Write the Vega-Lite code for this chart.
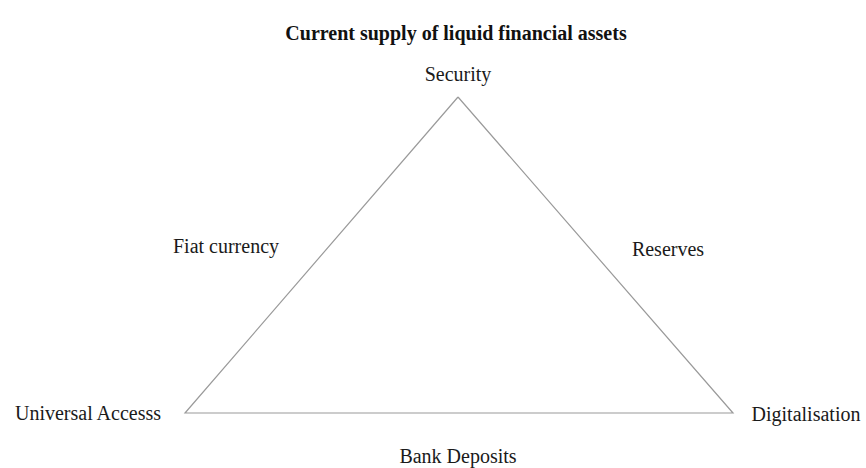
{
  "$schema": "https://vega.github.io/schema/vega-lite/v6.json",
  "width": 866,
  "height": 468,
  "autosize": {"type": "fit", "contains": "padding"},
  "padding": 0,
  "background": "white",
  "config": {"view": {"stroke": null}},
  "title": {
    "text": "Current supply of liquid financial assets",
    "font": "Liberation Serif",
    "fontSize": 20,
    "fontWeight": "bold",
    "color": "#111111",
    "anchor": "middle",
    "offset": 0,
    "dy": 44,
    "dx": 23
  },
  "datasets": {
    "edges": [
      {"vertex": "Security", "x": 458, "y": 97, "step": 0},
      {"vertex": "Digitalisation", "x": 733, "y": 413, "step": 1},
      {"vertex": "Universal Accesss", "x": 185, "y": 413, "step": 2},
      {"vertex": "Security", "x": 458, "y": 97, "step": 3}
    ],
    "labels": [
      {"label": "Security", "x": 458, "y": 75},
      {"label": "Fiat currency", "x": 226, "y": 247},
      {"label": "Reserves", "x": 668, "y": 250},
      {"label": "Universal Accesss", "x": 88, "y": 414},
      {"label": "Digitalisation", "x": 806, "y": 415},
      {"label": "Bank Deposits", "x": 458, "y": 457}
    ]
  },
  "layer": [
    {
      "data": {"name": "edges"},
      "mark": {"type": "line", "color": "#9a9a9a", "strokeWidth": 1.2},
      "encoding": {
        "x": {"field": "x", "type": "quantitative", "scale": {"domain": [0, 866]}, "axis": null},
        "y": {"field": "y", "type": "quantitative", "scale": {"domain": [0, 468], "reverse": true}, "axis": null},
        "order": {"field": "step", "type": "quantitative"}
      }
    },
    {
      "data": {"name": "labels"},
      "mark": {"type": "text", "font": "Liberation Serif", "fontSize": 20, "color": "#1a1a1a", "align": "center", "baseline": "middle"},
      "encoding": {
        "x": {"field": "x", "type": "quantitative", "scale": {"domain": [0, 866]}, "axis": null},
        "y": {"field": "y", "type": "quantitative", "scale": {"domain": [0, 468], "reverse": true}, "axis": null},
        "text": {"field": "label", "type": "nominal"}
      }
    }
  ]
}
